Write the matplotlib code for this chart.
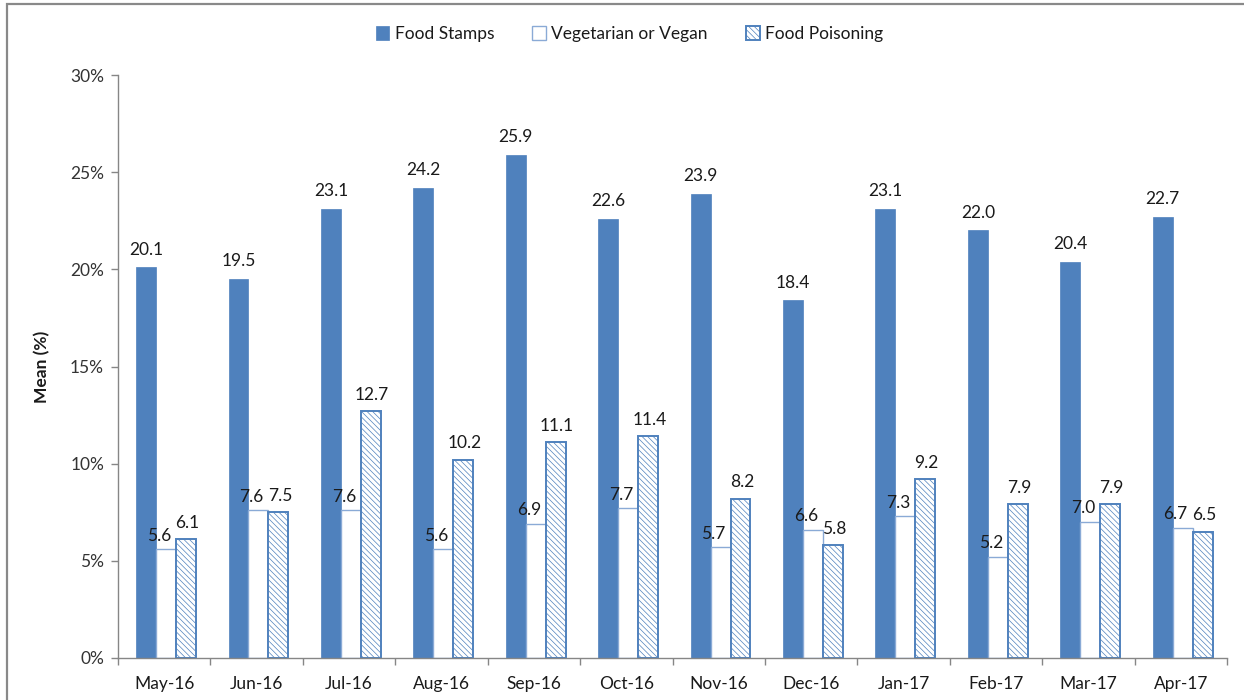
import matplotlib
matplotlib.use("Agg")
import matplotlib.pyplot as plt
import matplotlib.patches as mpatches
from matplotlib.ticker import FixedLocator
import numpy as np

plt.rcParams['font.family'] = ['Lato', 'DejaVu Sans']
plt.rcParams['hatch.linewidth'] = 0.5

months = ["May-16", "Jun-16", "Jul-16", "Aug-16", "Sep-16", "Oct-16",
          "Nov-16", "Dec-16", "Jan-17", "Feb-17", "Mar-17", "Apr-17"]
food_stamps = [20.1, 19.5, 23.1, 24.2, 25.9, 22.6, 23.9, 18.4, 23.1, 22.0, 20.4, 22.7]
vegetarian = [5.6, 7.6, 7.6, 5.6, 6.9, 7.7, 5.7, 6.6, 7.3, 5.2, 7.0, 6.7]
poisoning = [6.1, 7.5, 12.7, 10.2, 11.1, 11.4, 8.2, 5.8, 9.2, 7.9, 7.9, 6.5]
y_ticks = [0, 5, 10, 15, 20, 25, 30]

blue = "#4F81BD"
axis_gray = "#868686"
text_col = "#1a1a1a"
fs = 12.5

fig = plt.figure(figsize=(12.44, 7.0), dpi=100)
ax = fig.add_axes([118 / 1244, 1 - 658 / 700, (1227 - 118) / 1244, (658 - 75) / 700])

x = np.arange(len(months))
w = 0.216
b1 = ax.bar(x - w + 0.02, food_stamps, w, color=blue, edgecolor=blue, linewidth=0.5,
            label="Food Stamps", zorder=2)
b2 = ax.bar(x + 0.02, vegetarian, w, color="white", edgecolor="#8AAAD6", linewidth=1.0,
            label="Vegetarian or Vegan", zorder=2)
b3 = ax.bar(x + w + 0.02, poisoning, w, color="white", edgecolor=blue, linewidth=1.4,
            hatch="\\" * 6, label="Food Poisoning", zorder=2)

# value labels; vegetarian labels sit a little left so they clear their neighbours
for bars, vals, off in ((b1, food_stamps, (0, 7)), (b2, vegetarian, (-5, 4)),
                        (b3, poisoning, (1, 6))):
    for r, v in zip(bars, vals):
        ax.annotate(f"{v:.1f}", (r.get_x() + r.get_width() / 2, r.get_height()),
                    xytext=off, textcoords="offset points", ha="center", va="bottom",
                    fontsize=fs, color=text_col, zorder=3)

ax.set_xlim(-0.5, len(months) - 0.5)
ax.set_ylim(0, 30)
ax.set_yticks(y_ticks)
ax.set_yticklabels([f"{t}%" for t in y_ticks])
ax.set_xticks(x)
ax.set_xticklabels(months)
ax.xaxis.set_minor_locator(FixedLocator(np.arange(-0.5, len(months), 1.0)))
ax.tick_params(axis="x", which="major", length=0, pad=13, labelsize=fs, labelcolor=text_col)
ax.tick_params(axis="x", which="minor", length=5, width=1, color=axis_gray, direction="out")
ax.tick_params(axis="y", length=5, width=1, color=axis_gray, direction="out",
               labelsize=fs, labelcolor="#333333", pad=5)

for s in ("top", "right"):
    ax.spines[s].set_visible(False)
for s in ("left", "bottom"):
    ax.spines[s].set_color(axis_gray)
    ax.spines[s].set_linewidth(1)

ax.set_ylabel("Mean (%)", fontsize=fs, fontweight="bold", color=text_col, labelpad=14)

leg = fig.legend(handles=[b1, b2, b3], loc="center", bbox_to_anchor=(0.506, 1 - 34 / 700),
                 ncol=3, frameon=False, fontsize=fs, handlelength=0.8, handleheight=0.8,
                 handletextpad=0.3, columnspacing=2.2)
for t in leg.get_texts():
    t.set_color(text_col)

# Outer chart frame
frame = mpatches.Rectangle((7 / 1244, -0.1), 1.2, 1 - 4 / 700 + 0.1,
                           transform=fig.transFigure, fill=False,
                           edgecolor="#898989", linewidth=1.6, zorder=10)
fig.patches.append(frame)

fig.savefig("out.png", dpi=100, facecolor="white")
